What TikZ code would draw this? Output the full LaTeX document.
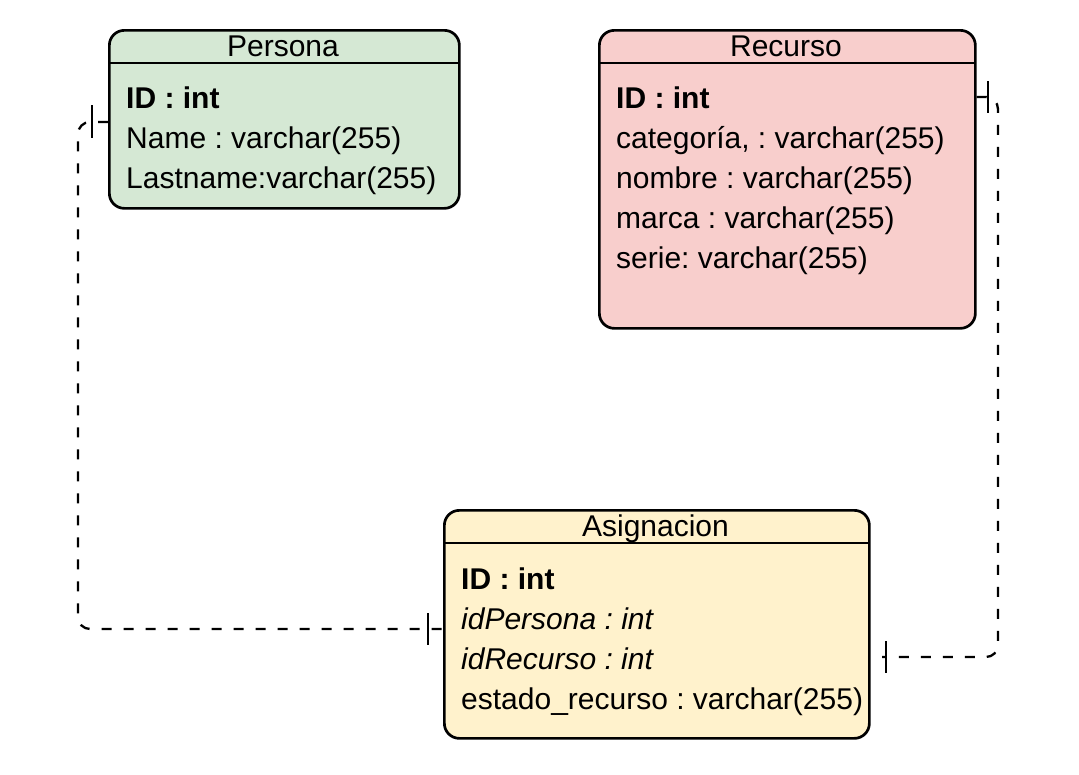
\documentclass[tikz,border=0pt]{standalone}
\usepackage{fontspec}
\setmainfont{Liberation Sans}
\definecolor{pgreen}{HTML}{D5E8D4}
\definecolor{pred}{HTML}{F8CECC}
\definecolor{pyellow}{HTML}{FFF2CC}
\tikzset{
  entity/.style={draw=black, line width=2.7pt, rounded corners=15pt, inner sep=0pt, anchor=north west},
  sepline/.style={line width=2.7pt},
  hdr/.style={inner sep=0pt, text height=21pt, text depth=0pt, anchor=center},
  attr/.style={inner sep=0pt, text height=21pt, text depth=0pt, anchor=west},
  conn/.style={line width=2.3pt, dash pattern=on 10pt off 12pt, rounded corners=12pt},
  tick/.style={line width=2.3pt}
}
\frenchspacing
\begin{document}
\begin{tikzpicture}[x=1pt, y=-1pt, font=\fontsize{30}{40}\selectfont\frenchspacing]
\useasboundingbox (0,0) rectangle (1079,774);
\fill[white] (0,0) rectangle (1079,774);

% Persona
\node[entity, fill=pgreen, minimum width=350pt, minimum height=178pt] (persona) at (108,29) {};
\draw[sepline] (108,63) -- (458,63);
\node[hdr] (personaT) at (283,46) {Persona};
\node[attr] (p1) at (126,98) {\textbf{ID : int}};
\node[attr] (p2) at (126,138) {Name : varchar(255)};
\node[attr] (p3) at (126,178) {Lastname:varchar(255)};

% Recurso
\node[entity, fill=pred, minimum width=376pt, minimum height=298pt] (recurso) at (598,29) {};
\draw[sepline] (598,63) -- (974,63);
\node[hdr] (recursoT) at (786,46) {Recurso};
\node[attr] (r1) at (616,98) {\textbf{ID : int}};
\node[attr] (r2) at (616,138) {categoría, : varchar(255)};
\node[attr] (r3) at (616,178) {nombre : varchar(255)};
\node[attr] (r4) at (616,218) {marca : varchar(255)};
\node[attr] (r5) at (616,258) {serie: varchar(255)};

% Asignacion
\node[entity, fill=pyellow, minimum width=425pt, minimum height=228pt] (asig) at (443,509) {};
\draw[sepline] (443,543) -- (868,543);
\node[hdr] (asigT) at (655.5,526) {Asignacion};
\node[attr] (a1) at (461,579) {\textbf{ID : int}};
\node[attr] (a2) at (461,619) {\textit{idPersona : int}};
\node[attr] (a3) at (461,659) {\textit{idRecurso : int}};
\node[attr] (a4) at (461,699) {estado\_recurso : varchar(255)};

% connector anchor points
\coordinate (pA) at (persona.west |- 0,122);
\coordinate (aA) at (asig.west |- 0,629);
\coordinate (rA) at (recurso.east |- 0,97);
\coordinate (aB) at (882,657);

% Persona -- Asignacion
\draw[conn] (pA) -- (78,122) -- (78,629) -- (aA);
\draw[tick] (92,105) -- (92,138);
\draw[tick] (428,613) -- (428,645);

% Recurso -- Asignacion
\draw[conn] (rA) -- (998,97) -- (998,657) -- (aB);
\draw[tick] (988,81) -- (988,113);
\draw[tick] (886,641) -- (886,673);
\end{tikzpicture}
\end{document}
